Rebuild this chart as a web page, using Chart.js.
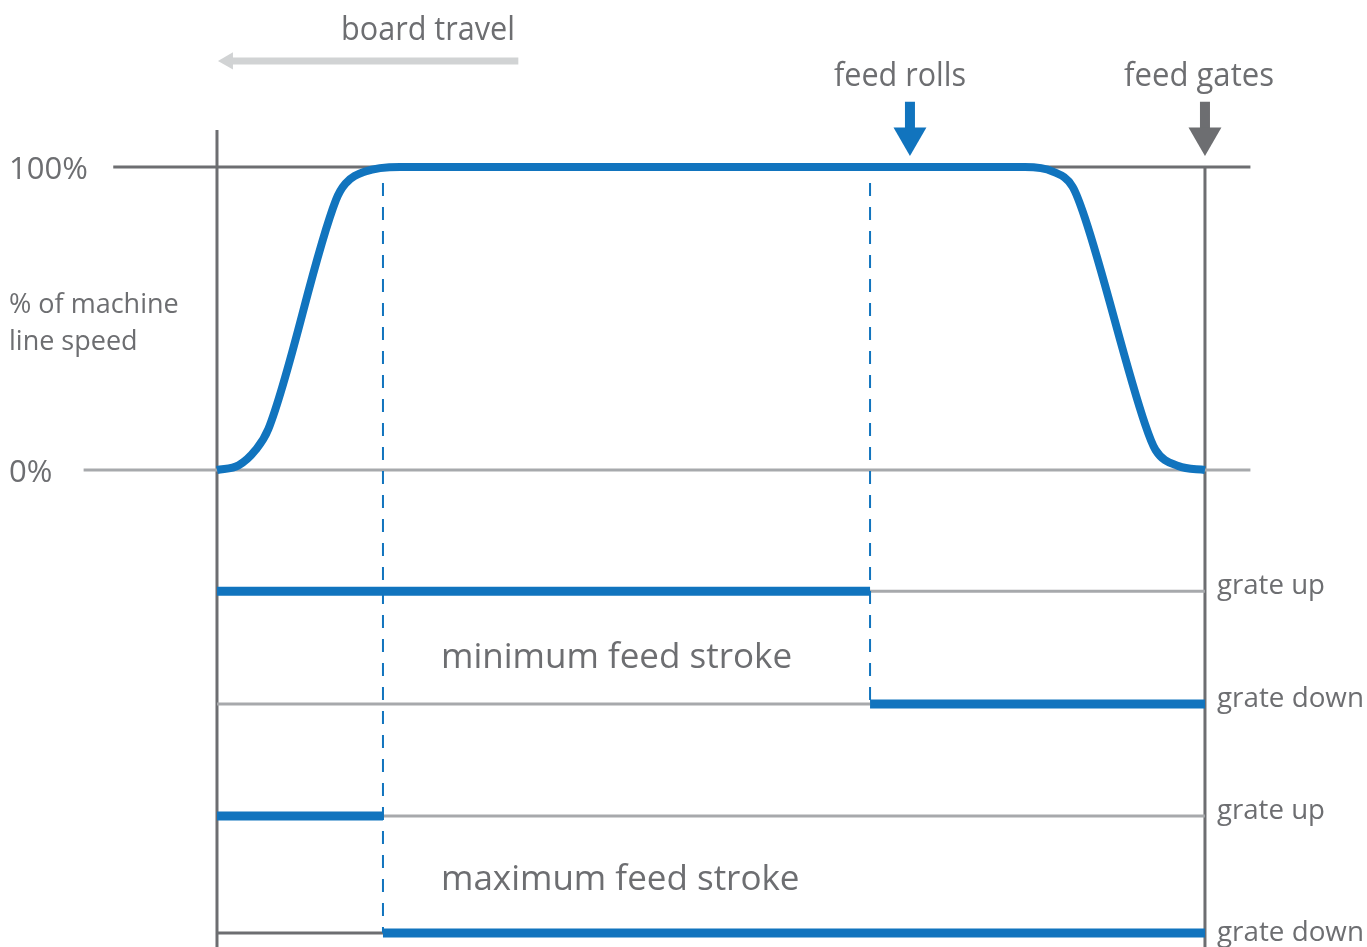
<!DOCTYPE html>
<html>
<head>
<meta charset="utf-8">
<script src="https://cdn.jsdelivr.net/npm/chart.js@4.4.1/dist/chart.umd.min.js"></script>
<style>
  html, body { margin: 0; padding: 0; background: #fff; }
  canvas { display: block; }
</style>
</head>
<body>
<canvas id="grafico" width="1367" height="947"></canvas>
<script>
// board position: 0 = left line, 100 = feed gates; speed in % of machine line speed
const speedX = [0, 2.2, 3.9, 5.2, 12.04, 13.0, 15.0, 18.52, 81.78, 84.6, 86.6, 87.85, 93.93, 95.0, 97.3, 100];
const speedY = [0, 1.6, 6.6, 13.5, 89.1, 94.5, 98.5, 100, 100, 98.5, 93.5, 83.2, 15.2, 6.6, 1.3, 0];

// grate levels (below the speed plot) and stroke positions
const gradeLevels = [-40, -77.2, -114.2, -152.8];   // min up, min down, max up, max down
const minStroke = 66.1;
const maxStroke = 16.8;
const tickValues = [100, 0];
const tickLabels = ['100%', '0%'];

const BLUE = '#1174be';
const DARK = '#6d6e71';
const LIGHT = '#a7a9ac';

const seg = (pts) => pts.map(p => ({ x: p[0], y: p[1] }));

const speedData = speedX.map((x, i) => ({ x: x, y: speedY[i] }));

function lineSet(data, color, width, extra) {
    return Object.assign({
        data: data,
        borderColor: color,
        borderWidth: width,
        pointRadius: 0,
        tension: 0,
        fill: false,
        spanGaps: false,
        borderCapStyle: 'butt'
    }, extra || {});
}

// listed bottom to top
const datasets = [
    // frame lines
    lineSet(seg([[0, 112.2], [0, -157.4]]), DARK, 3),
    lineSet(seg([[100, 100], [100, -157.4]]), DARK, 3),
    lineSet(seg([[-10.5, 100], [104.6, 100]]), DARK, 3),
    lineSet(seg([[-13.5, 0], [104.6, 0]]), LIGHT, 3),
    lineSet(seg([[0, gradeLevels[0]], [100, gradeLevels[0]]]), LIGHT, 3),
    lineSet(seg([[0, gradeLevels[1]], [minStroke, gradeLevels[1]]]), LIGHT, 3),
    lineSet(seg([[0, gradeLevels[2]], [100, gradeLevels[2]]]), LIGHT, 3),
    lineSet(seg([[0, gradeLevels[3]], [maxStroke, gradeLevels[3]]]), DARK, 3),
    // dashed stroke markers
    lineSet(seg([[maxStroke, 94.7], [maxStroke, gradeLevels[3]]]), BLUE, 2, { borderDash: [13, 11] }),
    lineSet(seg([[minStroke, 94.7], [minStroke, gradeLevels[1]]]), BLUE, 2, { borderDash: [13, 11] }),
    // grate position, minimum and maximum stroke
    lineSet([{ x: 0, y: gradeLevels[0] }, { x: minStroke, y: gradeLevels[0] }, { x: minStroke, y: null },
             { x: minStroke, y: gradeLevels[1] }, { x: 100, y: gradeLevels[1] }], BLUE, 9),
    lineSet([{ x: 0, y: gradeLevels[2] }, { x: maxStroke, y: gradeLevels[2] }, { x: maxStroke, y: null },
             { x: maxStroke, y: gradeLevels[3] }, { x: 100, y: gradeLevels[3] }], BLUE, 9),
    // speed curve
    lineSet(speedData, BLUE, 8, { tension: 0.4, cubicInterpolationMode: 'monotone', borderCapStyle: 'butt' }),
    // arrows
    lineSet(seg([[1.4, 135.0], [30.5, 135.0]]), '#d1d3d4', 7),
    lineSet(seg([[70.14, 121.5], [70.14, 110.5]]), BLUE, 10),
    lineSet(seg([[100, 121.5], [100, 110.5]]), DARK, 10),
    lineSet(seg([[1.11, 135.0]]), '#d1d3d4', 0, { pointRadius: 10, pointStyle: 'triangle', pointRotation: 270, pointBackgroundColor: '#d1d3d4', pointBorderWidth: 0 }),
    lineSet(seg([[70.14, 109.9]]), BLUE, 0, { pointRadius: 19, pointStyle: 'triangle', pointRotation: 180, pointBackgroundColor: BLUE, pointBorderWidth: 0 }),
    lineSet(seg([[100, 109.9]]), DARK, 0, { pointRadius: 19, pointStyle: 'triangle', pointRotation: 180, pointBackgroundColor: DARK, pointBorderWidth: 0 })
];
datasets.forEach((d, i) => { d.order = datasets.length - i; });

// labels
const testi = {
    id: 'testi',
    afterDatasetsDraw(chart) {
        const ctx = chart.ctx;
        const sx = chart.scales.x, sy = chart.scales.y;
        const X = v => sx.getPixelForValue(v), Y = v => sy.getPixelForValue(v);
        ctx.save();
        ctx.fillStyle = DARK;
        ctx.textBaseline = 'alphabetic';
        const scritta = (t, x, y, size, w) => {
            ctx.font = size + 'px "Open Sans"';
            ctx.textAlign = 'left';
            ctx.fillText(t, x, y, w);
        };
        scritta('board travel', 341, 40, 32, 174);
        scritta('feed rolls', 834, 86, 32, 132);
        scritta('feed gates', 1124, 86, 32, 150);
        tickValues.forEach((v, i) => scritta(tickLabels[i], 9, Y(v) + 12, 31, i === 0 ? 80 : 44));
        scritta('% of machine', 9, 313, 27, 176);
        scritta('line speed', 9, 350, 27, 130);
        const grate = ['grate up', 'grate down', 'grate up', 'grate down'];
        gradeLevels.forEach((v, i) => scritta(grate[i], X(100) + 12, Y(v) + 3 + (i === 3 ? 5 : 0), 28, i % 2 ? 147 : 108));
        scritta('minimum feed stroke', 441, 668, 35, 357);
        scritta('maximum feed stroke', 441, 890, 35, 363);
        ctx.restore();
    }
};

const ctx = document.getElementById('grafico').getContext('2d');
const myChart = new Chart(ctx, {
    type: 'line',
    data: { datasets: datasets },
    options: {
        responsive: false,
        animation: false,
        clip: false,
        layout: { padding: 0, autoPadding: false },
        plugins: { legend: { display: false }, tooltip: { enabled: false } },
        scales: {
            x: { type: 'linear', min: -21.963, max: 116.40, display: false },
            y: { type: 'linear', min: -157.43, max: 155.12, display: false }
        }
    },
    plugins: [testi]
});
</script>
</body>
</html>
